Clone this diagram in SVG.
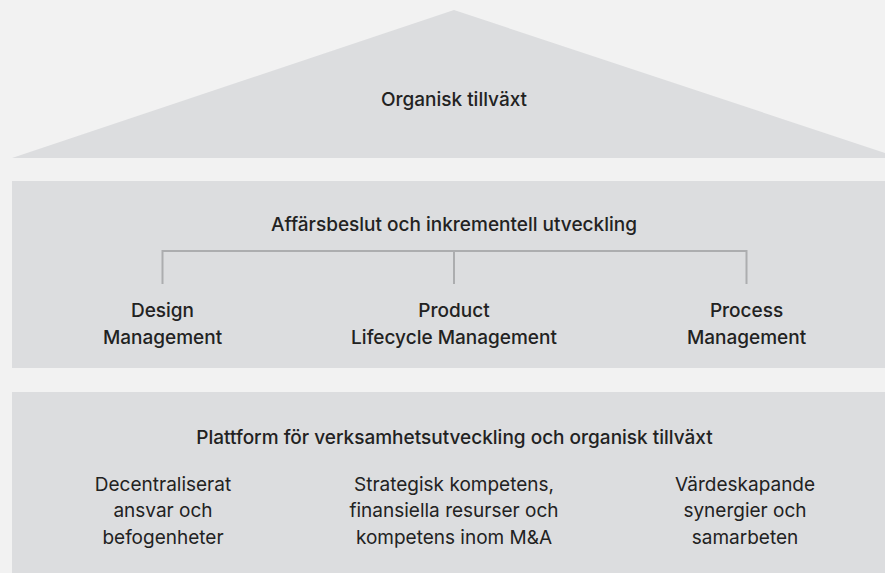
<svg xmlns="http://www.w3.org/2000/svg" width="885" height="573" viewBox="0 0 885 573">
<style>
  .bg{fill:#f2f2f2}
  .shape{fill:#dcdddf}
  .t{font-family:Inter,"Liberation Sans",sans-serif;fill:#222222;text-anchor:middle;font-size:19px}
  .h{font-weight:500}
  .b{font-weight:500}
  .r{font-weight:400}
  .conn{fill:none;stroke:#acadaf;stroke-width:2}
</style>
<rect class="bg" x="0" y="0" width="885" height="573"/>
<g id="roof">
  <polygon class="shape" points="12,158 454,10 885,153 885,158"/>
  <text class="t h" x="454" y="106">Organisk tillväxt</text>
</g>
<g id="middle">
  <rect class="shape" x="12" y="181" width="873" height="187"/>
  <text class="t h" x="454" y="231">Affärsbeslut och inkrementell utveckling</text>
</g>
<g id="connectors">
  <path class="conn" d="M162.5,284 V251 H746.5 V284 M454,251 V284"/>
</g>
<g id="design">
  <text class="t b" x="162.5" y="317">Design</text>
  <text class="t b" x="162.5" y="344">Management</text>
</g>
<g id="product">
  <text class="t b" x="454" y="317">Product</text>
  <text class="t b" x="454" y="344">Lifecycle Management</text>
</g>
<g id="process">
  <text class="t b" x="746.5" y="317">Process</text>
  <text class="t b" x="746.5" y="344">Management</text>
</g>
<g id="bottom">
  <rect class="shape" x="12" y="392" width="873" height="181"/>
  <text class="t h" x="454.5" y="444">Plattform för verksamhetsutveckling och organisk tillväxt</text>
</g>
<g id="col1">
  <text class="t r" x="163" y="491">Decentraliserat</text>
  <text class="t r" x="163" y="517">ansvar och</text>
  <text class="t r" x="163" y="544">befogenheter</text>
</g>
<g id="col2">
  <text class="t r" x="454" y="491">Strategisk kompetens,</text>
  <text class="t r" x="454" y="517">finansiella resurser och</text>
  <text class="t r" x="454" y="544">kompetens inom M&amp;A</text>
</g>
<g id="col3">
  <text class="t r" x="745" y="491">Värdeskapande</text>
  <text class="t r" x="745" y="517">synergier och</text>
  <text class="t r" x="745" y="544">samarbeten</text>
</g>
</svg>
